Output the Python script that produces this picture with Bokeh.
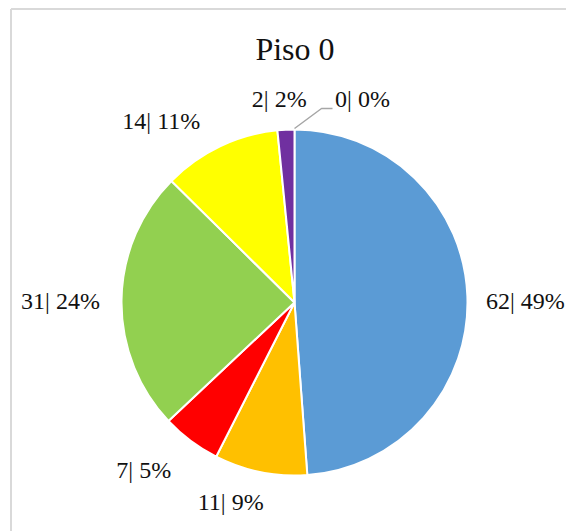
import math
from bokeh.plotting import figure
from bokeh.models import Range1d, ColumnDataSource
from bokeh.embed import file_html
from bokeh.resources import INLINE
from bokeh.core.properties import value

# ---- data ----
title_text = "Piso 0"
values = [62, 11, 7, 31, 14, 2, 0]
percents = [49, 9, 5, 24, 11, 2, 0]
colors = ["#5B9BD5", "#FFC000", "#FF0000", "#92D050", "#FFFF00", "#7030A0", "#A5A5A5"]

# ---- layout / style ----
W, H = 566, 531
PAGE_H = 531
cx, cy = 294, PAGE_H - 302     # pie centre in data units (px, y up)
r = 173                        # pie radius
R_lab = 228                    # label distance from centre
# label nudges (screen px, x right / y down)
nudge_x = [3, -19, -14, -6, -35, -4, 68]
nudge_y = [8.5, -22, -12.5, 3, 26, 26, 26]
FONT = value("Times New Roman")

total = sum(values)
starts, ends, mids = [], [], []
cum = 0.0
for v in values:
    a0 = cum / total
    cum += v
    a1 = cum / total
    starts.append(math.pi / 2 - 2 * math.pi * a0)
    ends.append(math.pi / 2 - 2 * math.pi * a1)
    mids.append(2 * math.pi * (a0 + a1) / 2)   # clockwise from top

p = figure(width=W, height=H, output_backend="svg", toolbar_location=None,
           x_range=Range1d(0, W), y_range=Range1d(PAGE_H - H, PAGE_H),
           x_axis_location=None, y_axis_location=None,
           min_border=0, outline_line_color=None, background_fill_color="white")
p.grid.visible = False

# chart frame (light gray, left + top edges visible)
p.line([10.5, 10.5], [0, PAGE_H - 8.5], line_color="#D9D9D9", line_width=2)
p.line([10.5, W], [PAGE_H - 8.5, PAGE_H - 8.5], line_color="#D9D9D9", line_width=2)

# only non-empty slices get a wedge
nz = [i for i, v in enumerate(values) if v > 0]
src = ColumnDataSource(dict(start=[starts[i] for i in nz], end=[ends[i] for i in nz],
                            color=[colors[i] for i in nz]))
p.wedge(x=cx, y=cy, radius=r, start_angle="start", end_angle="end",
        direction="clock", fill_color="color", line_color="white",
        line_width=2, source=src)

# leader line for the zero slice
for zi in [i for i, v in enumerate(values) if v == 0]:
    th = mids[zi]
    sx0 = cx + (r + 1) * math.sin(th)
    sy0 = cy + (r + 1) * math.cos(th)
    p.line([sx0, sx0 + 27, sx0 + 38], [sy0, sy0 + 20, sy0 + 20],
           line_color="#A6A6A6", line_width=1.5)

# labels
lx, ly, lt = [], [], []
for i, v in enumerate(values):
    th = mids[i]
    x = cx + R_lab * math.sin(th) + nudge_x[i]
    y = cy + R_lab * math.cos(th) - nudge_y[i]
    lx.append(x)
    ly.append(y + 2)
    lt.append(f"{v}| {percents[i]}%")

p.text(x=lx, y=ly, text=lt, text_align="center", text_baseline="alphabetic",
       text_font=FONT, text_font_size="24px", text_color="#111111")

p.text(x=[294.5], y=[PAGE_H - 48], text=[title_text], text_align="center",
       text_baseline="alphabetic", text_font=FONT,
       text_font_size="32px", text_color="#111111")

open("out.html", "w").write(file_html(p, INLINE))
